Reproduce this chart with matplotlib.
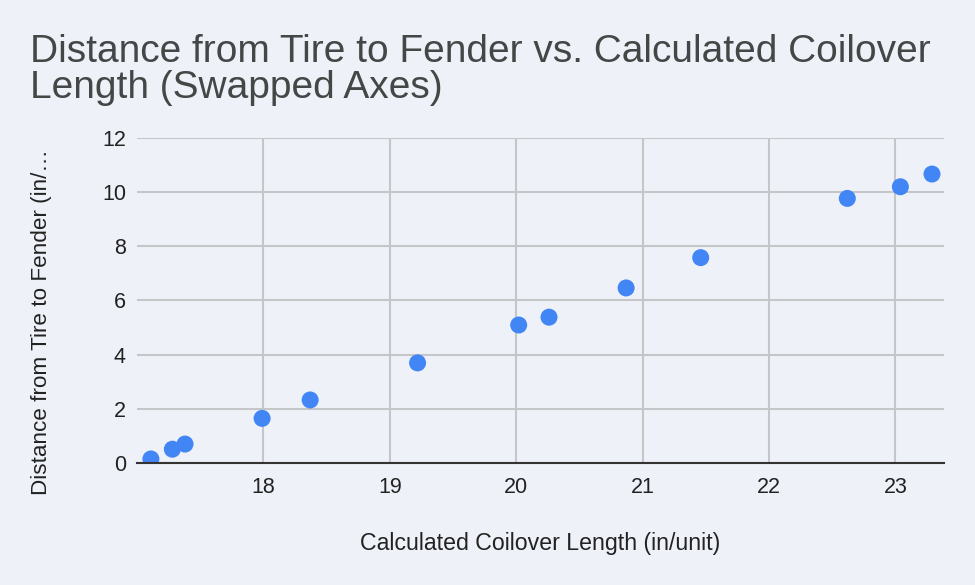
import matplotlib.pyplot as plt

plt.rcParams['font.family'] = ['Liberation Sans', 'DejaVu Sans']

# data
coilover_length = [17.11, 17.28, 17.38, 17.99, 18.37, 19.22, 20.02,
                   20.26, 20.87, 21.46, 22.62, 23.04, 23.29]
tire_to_fender = [0.14, 0.50, 0.69, 1.64, 2.32, 3.69, 5.09,
                  5.38, 6.46, 7.58, 9.77, 10.20, 10.67]
x_ticks = [18, 19, 20, 21, 22, 23]
y_ticks = [0, 2, 4, 6, 8, 10, 12]

BG = '#eef2f8'
TEXT = '#222222'

fig = plt.figure(figsize=(9.75, 5.85), dpi=100, facecolor=BG)
ax = fig.add_axes([0.1405, 0.209, 0.8277, 0.555], facecolor=BG)

ax.scatter(coilover_length, tire_to_fender, s=150, color='#4285f4',
           edgecolors='none', zorder=3)

ax.set_xlim(17.0, 23.385)
ax.set_ylim(0, 12)
ax.set_xticks(x_ticks)
ax.set_yticks(y_ticks)
ax.grid(True, color='#c4c6c9', linewidth=1.5, zorder=0)
ax.set_axisbelow(True)

for side in ['top', 'right', 'left']:
    ax.spines[side].set_visible(False)
ax.spines['bottom'].set_color('#333333')
ax.spines['bottom'].set_linewidth(1.5)
ax.spines['bottom'].set_zorder(4)

ax.tick_params(axis='both', length=0, labelsize=15.5, labelcolor=TEXT)
ax.tick_params(axis='x', pad=10)
ax.tick_params(axis='y', pad=8)

ax.set_xlabel('Calculated Coilover Length (in/unit)', fontsize=16.7,
              color=TEXT, labelpad=25)
fig.text(0.043, 0.449, 'Distance from Tire to Fender (in/…', rotation=90,
         fontsize=16.2, color=TEXT, ha='center', va='center')

fig.text(0.031, 0.942, 'Distance from Tire to Fender vs. Calculated Coilover\n'
         'Length (Swapped Axes)', fontsize=28, color='#444746',
         ha='left', va='top', linespacing=1.0)

fig.savefig('out.png', dpi=100, facecolor=BG)
